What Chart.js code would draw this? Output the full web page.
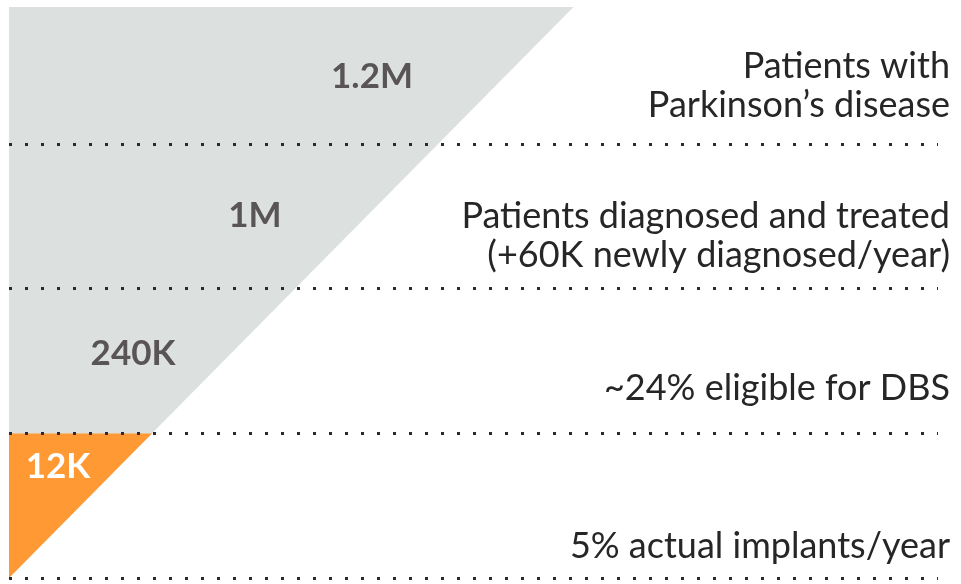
<!DOCTYPE html>
<html>
<head>
<meta charset="utf-8">
<script src="https://cdn.jsdelivr.net/npm/chart.js@4.4.1/dist/chart.umd.min.js"></script>
<style>
  body { margin: 0; background: #fff; }
  #wrap { width: 961px; height: 584px; position: relative; }
</style>
</head>
<body>
<div id="wrap"><canvas id="funnel"></canvas></div>
<script>
// tiers, top to bottom
const tierCounts = ["1.2M", "1M", "240K", "12K"];
const tierNotes = [
  ["Patients with", "Parkinson’s disease"],
  ["Patients diagnosed and treated", "(+60K newly diagnosed/year)"],
  ["~24% eligible for DBS"],
  ["5% actual implants/year"],
];
// funnel height in tier units (top band is a bit short) and the highlighted bottom tier
const funnelTop = 3.95;
const highlightTop = 1;

// where things sit, in scale units
const countPos = [[2.54, 3.47], [1.72, 2.505], [0.868, 1.55], [0.343, 0.767]];
const noteBaseline = [3.19, 2.15, 1.23, 0.14];

const tierLabels = {
  id: "tierLabels",
  afterDraw(chart) {
    const ctx = chart.ctx;
    const xs = chart.scales.x;
    const ys = chart.scales.y;
    ctx.save();

    // counts inside the funnel
    ctx.font = "bold 35px Lato";
    ctx.textAlign = "center";
    ctx.textBaseline = "middle";
    tierCounts.forEach((txt, i) => {
      ctx.fillStyle = i === tierCounts.length - 1 ? "#ffffff" : "#595557";
      ctx.fillText(txt, xs.getPixelForValue(countPos[i][0]), ys.getPixelForValue(countPos[i][1]));
    });

    // notes on the right
    ctx.font = "36px Lato";
    ctx.textAlign = "right";
    ctx.textBaseline = "alphabetic";
    ctx.fillStyle = "#262626";
    tierNotes.forEach((lines, i) => {
      const base = ys.getPixelForValue(noteBaseline[i]);
      lines.forEach((line, j) => {
        ctx.fillText(line, 950, base - (lines.length - 1 - j) * 39);
      });
    });
    ctx.restore();
  },
};

const config = {
  type: "line",
  data: {
    datasets: [
      {
        label: tierCounts[3],
        data: [{ x: 0, y: 0 }, { x: highlightTop, y: highlightTop }],
        backgroundColor: "#ff9933",
        borderColor: "transparent",
        borderWidth: 0,
        pointRadius: 0,
        fill: { value: highlightTop },
      },
      {
        label: tierCounts[0],
        data: [{ x: 0, y: 0 }, { x: funnelTop, y: funnelTop }],
        backgroundColor: "#dce1df",
        borderColor: "transparent",
        borderWidth: 0,
        pointRadius: 0,
        fill: "end",
      },
    ],
  },
  options: {
    responsive: true,
    maintainAspectRatio: false,
    animation: false,
    layout: { padding: { left: 9, right: 23, top: 7, bottom: 6 } },
    plugins: {
      legend: { display: false },
      tooltip: { enabled: false },
    },
    scales: {
      x: {
        type: "linear",
        min: 0,
        max: 6.5,
        display: false,
      },
      y: {
        type: "linear",
        min: 0,
        max: funnelTop,
        ticks: { display: false, stepSize: 1 },
        grid: {
          z: 1,
          drawTicks: false,
          lineWidth: 3,
          color: (c) => (c.tick && c.tick.value > 3.5 ? "transparent" : "#2b2b2b"),
        },
        border: { display: false, dash: [3, 13], dashOffset: 0 },
        afterFit: (s) => {
          s.width = 0;
        },
      },
    },
  },
  plugins: [tierLabels],
};

new Chart(document.getElementById("funnel"), config);
</script>
</body>
</html>
